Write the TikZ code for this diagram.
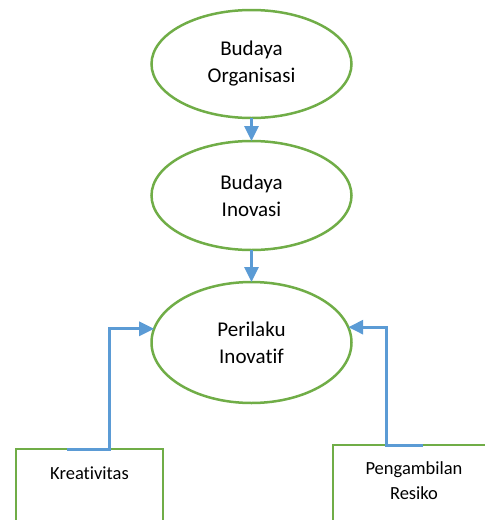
\documentclass[tikz,border=0pt]{standalone}
\usepackage{fontspec}
\setmainfont{Carlito}[Ligatures={NoCommon}]
\usetikzlibrary{shapes.geometric,arrows.meta,positioning}
\definecolor{leafgreen}{RGB}{112,173,71}
\definecolor{skyblue}{RGB}{91,155,213}
\tikzset{
	oval/.style={ellipse, draw=leafgreen, line width=2.5pt, inner sep=0pt, outer sep=0pt,
		minimum width=200pt, align=center, font=\fontsize{21}{27}\selectfont},
	factor/.style={rectangle, draw=leafgreen, line width=2.5pt, inner sep=0pt, outer sep=0pt,
		anchor=north west, align=center, font=\fontsize{18.5}{25}\selectfont},
	link/.style={draw=skyblue, line width=3pt, -{Triangle[length=15pt,width=14pt]}}
}
\begin{document}
\begin{tikzpicture}[x=1pt,y=-1pt]
	\useasboundingbox (0,0) rectangle (485,520);
	\clip (0,0) rectangle (485,520);
	\node [oval, minimum height=108pt] (budorg) at (251.5,64)
	{Budaya\\Organisasi};
	\node [oval, minimum height=109pt, below=23pt of budorg] (budino)
	{Budaya\\Inovasi};
	\node [oval, minimum height=121pt, below=32pt of budino] (perilaku)
	{Perilaku\\Inovatif};
	\node [factor, minimum width=147pt, text height=30pt, text depth=80pt] (kreat)
	at (16,449) {Kreativitas};
	\node [factor, minimum width=162pt, text height=54pt, text depth=60pt] (risiko)
	at (333,445) {Pengambilan\\Resiko};

	\draw [link] (budorg.south) -- (budino.north);
	\draw [link] (budino.south) -- (perilaku.north);
	\draw [link] ([xshift=51pt]kreat.north west)
	-| ([xshift=-45pt]perilaku.172) -- (perilaku.172);
	\draw [link] ([xshift=90pt]risiko.north west)
	-| ([xshift=38pt]perilaku.9) -- (perilaku.9);
\end{tikzpicture}
\end{document}
